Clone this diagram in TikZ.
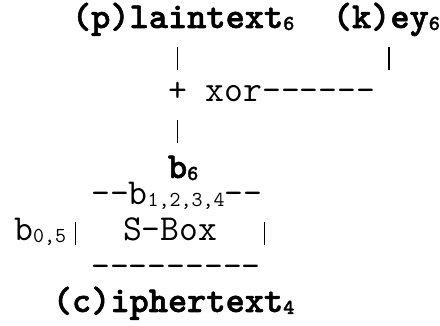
\documentclass[tikz,border=0pt]{standalone}
\usepackage{fontspec}
% typewriter text: Latin Modern Mono, 0.525em per column -> 19.2pt columns
\newfontfamily\heavytt{lmmonolt10-bold.otf}[FakeBold=1.5]
\newcommand\lowsub[1]{\raisebox{-2pt}{\fontsize{21.3}{21.3}\selectfont #1}}
% a one-column vertical stroke
\newcommand\vbar{\makebox[19.2pt]{\rule[-4.5pt]{1.4pt}{23pt}}}
\tikzset{
  ascii/.style={anchor=base west, inner sep=0pt, outer sep=0pt,
    font=\ttfamily\fontsize{36.57}{36.57}\selectfont},
  asciibold/.style={ascii, font=\heavytt\fontsize{36.57}{36.57}\selectfont},
}
\begin{document}
\begin{tikzpicture}[x=1pt, y=-1pt]
  \useasboundingbox (0,0) rectangle (440,326);
  % column 0 of the grid starts at 72pt
  \node[asciibold] (plain)  at (72,28)    {(p)laintext\lowsub{6}};
  \node[asciibold] (key)    at (332.8,28) {(k)ey\lowsub{6}};
  \node[ascii]     (barp)   at (168,65.5)   {\vbar};
  \node[ascii]     (bark)   at (379.2,65.5) {\vbar};
  \node[ascii]     (xor)    at (168,102)  {+ xor------};
  \node[ascii]     (barx)   at (168,138.5) {\vbar};
  \node[asciibold] (b6)     at (168,178)  {b\lowsub{6}};
  \node[ascii]     (sbtop)  at (91.2,205) {--b\lowsub{1,2,3,4}--};
  \node[ascii]     (sbmid)  at (14.4,241) {b\lowsub{0,5}\vbar\ \ S-Box\ \ \vbar};
  \node[ascii]     (sbbot)  at (91.2,278) {---------};
  \node[asciibold] (cipher) at (52.8,312) {(c)iphertext\lowsub{4}};
\end{tikzpicture}
\end{document}
